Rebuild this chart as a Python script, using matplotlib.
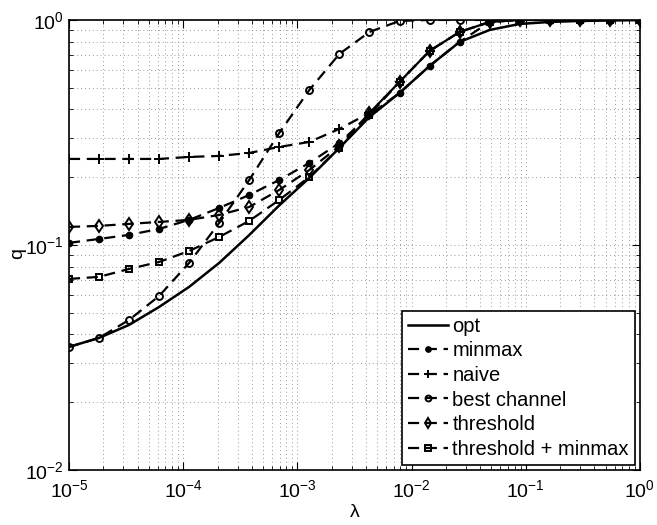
import numpy as np
import matplotlib
matplotlib.use("Agg")
import matplotlib.pyplot as plt
from matplotlib.ticker import LogLocator, NullFormatter

plt.rcParams["font.family"] = ["Liberation Sans", "DejaVu Sans"]
plt.rcParams["mathtext.fontset"] = "custom"
plt.rcParams["mathtext.rm"] = "Liberation Sans"
plt.rcParams["mathtext.it"] = "Liberation Sans:italic"

# lambda grid: 20 points, log spaced over five decades
lam = np.logspace(-5, 0, 20)

q_opt = [0.0352, 0.0386, 0.0441, 0.0530, 0.0651, 0.0832, 0.1107, 0.1500, 0.1986, 0.2700,
         0.3706, 0.4737, 0.6245, 0.7984, 0.9028, 0.9599, 0.9797, 0.9898, 0.9949, 1.0]
q_minmax = [0.1021, 0.1063, 0.1108, 0.1178, 0.1292, 0.1460, 0.1668, 0.1945, 0.2314, 0.2840,
            0.3783, 0.4737, 0.6245, 0.7984, 0.9800, 1.0, 1.0, 1.0, 1.0, 1.0]
q_naive = [0.2411, 0.2411, 0.2411, 0.2411, 0.2461, 0.2486, 0.2563, 0.2726, 0.2869, 0.3279,
           0.3860, 0.5303, 0.7283, 0.8843, 0.9797, 1.0, 1.0, 1.0, 1.0, 1.0]
q_best = [0.0352, 0.0386, 0.0464, 0.0593, 0.0832, 0.1253, 0.1945, 0.3147, 0.4885, 0.7064,
          0.8843, 0.9900, 1.0, 1.0, 1.0, 1.0, 1.0, 1.0, 1.0, 1.0]
q_thr = [0.1202, 0.1215, 0.1240, 0.1265, 0.1292, 0.1359, 0.1475, 0.1756, 0.2154, 0.2754,
         0.3860, 0.5303, 0.7283, 0.8843, 0.9797, 1.0, 1.0, 1.0, 1.0, 1.0]
q_thr_mm = [0.0706, 0.0721, 0.0782, 0.0840, 0.0940, 0.1085, 0.1279, 0.1585, 0.2006, 0.2698,
            0.3783, 0.5303, 0.7283, 0.8843, 0.9797, 1.0, 1.0, 1.0, 1.0, 1.0]

fig = plt.figure(figsize=(6.57, 5.25), dpi=100)
ax = fig.add_axes([0.105, 0.105, 0.869, 0.857])

dash = (5, 3)
kw = dict(color="black", lw=1.6, dashes=dash)
ax.plot(lam, q_opt, color="black", lw=1.8, label="opt")
ax.plot(lam, q_minmax, marker="o", ms=4.5, mfc="black", mec="black", label="minmax", **kw)
ax.plot(lam, q_naive, marker="+", ms=7, mew=1.4, label="naive", **kw)
ax.plot(lam, q_best, marker="o", ms=5, mfc="none", mec="black", mew=1.4, label="best channel", **kw)
ax.plot(lam, q_thr, marker="d", ms=6, mfc="none", mec="black", mew=1.4, label="threshold", **kw)
ax.plot(lam, q_thr_mm, marker="s", ms=4.5, mfc="none", mec="black", mew=1.4,
        label="threshold + minmax", **kw)

ax.set_xscale("log")
ax.set_yscale("log")
ax.set_xlim(1e-5, 1)
ax.set_ylim(1e-2, 1)
ax.xaxis.set_major_locator(LogLocator(base=10, numticks=10))
ax.xaxis.set_minor_locator(LogLocator(base=10, subs=np.arange(2, 10), numticks=20))
ax.yaxis.set_minor_locator(LogLocator(base=10, subs=np.arange(2, 10), numticks=20))
ax.xaxis.set_minor_formatter(NullFormatter())
ax.yaxis.set_minor_formatter(NullFormatter())

ax.grid(True, which="both", color="0.6", linestyle=(0, (1, 3)), lw=0.7)
ax.tick_params(which="both", direction="in", top=True, right=True, labelsize=14)
ax.tick_params(axis="x", which="major", pad=7)
ax.tick_params(axis="y", which="major", pad=4)
ax.tick_params(which="major", length=6)
ax.tick_params(which="minor", length=3)
for s in ax.spines.values():
    s.set_linewidth(1.2)

ax.set_xlabel("λ", fontsize=14, labelpad=2)
ax.set_ylabel("q", fontsize=14)
ax.yaxis.set_label_coords(-0.075, 0.48)

leg = ax.legend(loc="lower right", fontsize=14.5, handlelength=2.0, handletextpad=0.2,
                labelspacing=0.28, borderpad=0.3, borderaxespad=0.25, fancybox=False,
                framealpha=1, edgecolor="black", markerscale=0.85)
leg.get_frame().set_linewidth(1.2)

fig.savefig("out.png", dpi=100)
